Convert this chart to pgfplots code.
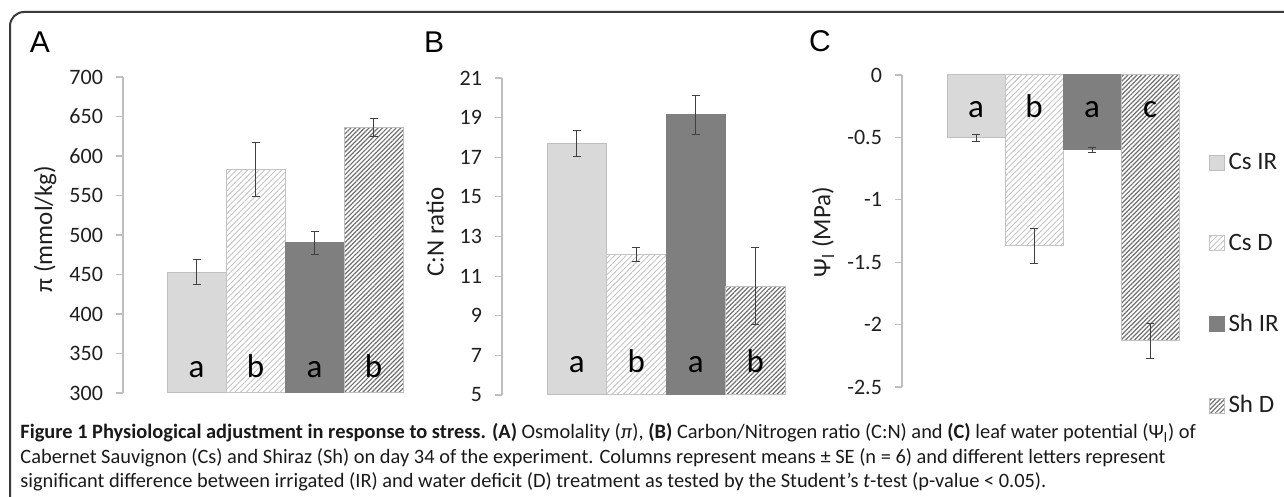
\documentclass[border=0pt]{standalone}
\usepackage{fontspec}
\setmainfont{Carlito}
\newfontfamily\arialf{Liberation Sans}
\usepackage{pgfplots}
\pgfplotsset{compat=1.18}
\usetikzlibrary{patterns.meta}

\definecolor{csir}{HTML}{D9D9D9}
\definecolor{shir}{HTML}{7F7F7F}
\definecolor{axisg}{HTML}{BFBFBF}
\definecolor{hatchl}{HTML}{C4C4C4}
\definecolor{hatchd}{HTML}{707070}
\definecolor{txt}{HTML}{1F1F1F}
\definecolor{errc}{HTML}{404040}
\definecolor{framec}{HTML}{3A3A3A}

\tikzset{letter/.style={font=\fontsize{16.5}{18}\selectfont, text=black, anchor=base}}
\pgfplotsset{
  panel/.style={
    scale only axis, ybar,
    axis x line=none, axis y line*=left,
    y axis line style={axisg, line width=0.6pt},
    ytick style={axisg, line width=0.6pt},
    tick align=outside, major tick length=3.5pt,
    tick label style={font=\fontsize{11}{13}\selectfont, text=txt},
    yticklabel style={xshift=-3pt},
    /pgf/number format/assume math mode=true,
    ylabel style={font=\fontsize{12.5}{14}\selectfont, text=txt, anchor=center},
    error bars/y dir=both, error bars/y explicit,
    error bars/error bar style={errc, line width=0.5pt},
    error bars/error mark options={errc, rotate=90, mark size=2pt, line width=0.5pt},
  },
  csir/.style={fill=csir, draw=axisg, line width=0.5pt, bar shift=0pt},
  csd/.style={pattern={Lines[angle=45,distance=2pt,line width=0.45pt]},
              pattern color=hatchl, draw=hatchl, line width=0.5pt, bar shift=0pt},
  shir/.style={fill=shir, draw=shir, line width=0.5pt, bar shift=0pt},
  shd/.style={pattern={Lines[angle=45,distance=1.6pt,line width=0.6pt]},
              pattern color=hatchd, draw=axisg, line width=0.5pt, bar shift=0pt},
}

\begin{document}
\begin{tikzpicture}
\useasboundingbox (0,0) rectangle (642pt,248.5pt);
\draw[framec, line width=1pt, rounded corners=7pt] (5pt,-20pt) -- (5pt,242.5pt) -- (700pt,242.5pt);

\node[font=\arialf\fontsize{15}{17}\selectfont] at (20pt,227.5pt) {A};
\node[font=\arialf\fontsize{15}{17}\selectfont] at (217pt,227.5pt) {B};
\node[font=\arialf\fontsize{15}{17}\selectfont] at (410pt,228pt) {C};

% A: osmolality
\begin{axis}[panel, at={(61.5pt,52pt)}, anchor=south west,
  width=165pt, height=158pt, xmin=0, xmax=330, ymin=300, ymax=700,
  ytick={300,350,...,700}, bar width=59,
  ylabel={π (mmol/kg)}, ylabel style={at={(axis description cs:-0.236,0.519)}}]
\addplot[csir] coordinates {(73.5,453) +- (0,16)};
\addplot[csd]  coordinates {(132.5,583) +- (0,34)};
\addplot[shir] coordinates {(191.5,490) +- (0,15)};
\addplot[shd]  coordinates {(250.5,636) +- (0,11)};
\node[letter] at (axis cs:73.5,320) {a};
\node[letter] at (axis cs:132.5,320) {b};
\node[letter] at (axis cs:191.5,320) {a};
\node[letter] at (axis cs:250.5,320) {b};
\end{axis}

% B: C:N ratio
\begin{axis}[panel, at={(251pt,51pt)}, anchor=south west,
  width=150pt, height=158.5pt, xmin=0, xmax=300, ymin=5, ymax=21,
  ytick={5,7,...,21}, bar width=59.5,
  ylabel={C:N ratio}, ylabel style={at={(axis description cs:-0.223,0.514)}}]
\addplot[csir] coordinates {(74.75,17.7) +- (0,0.65)};
\addplot[csd]  coordinates {(134.25,12.1) +- (0,0.34)};
\addplot[shir] coordinates {(193.75,19.15) +- (0,0.98)};
\addplot[shd]  coordinates {(253.25,10.5) +- (0,1.96)};
\node[letter] at (axis cs:74.75,6.15) {a};
\node[letter] at (axis cs:134.25,6.15) {b};
\node[letter] at (axis cs:193.75,6.15) {a};
\node[letter] at (axis cs:253.25,6.15) {b};
\end{axis}

% C: leaf water potential
\begin{axis}[panel, at={(451pt,55pt)}, anchor=south west,
  width=144pt, height=156pt, xmin=0, xmax=288, ymin=-2.5, ymax=0,
  ytick={-2.5,-2,...,0}, bar width=58,
  ylabel={Ψ\textsubscript{l} (MPa)}, ylabel style={at={(axis description cs:-0.274,0.497)}},
  legend image code/.code={\draw[#1] (0pt,-3.75pt) rectangle (7.5pt,3.75pt);},
  legend style={draw=none, fill=none, at={(axis description cs:1.042,0.775)}, anchor=north west,
    font=\fontsize{12.5}{14}\selectfont, text=txt, row sep=26.5pt},
  legend cell align=left]
\addplot[csir] coordinates {(74,-0.504) +- (0,0.03)};
\addplot[csd]  coordinates {(132,-1.37) +- (0,0.14)};
\addplot[shir] coordinates {(190,-0.60) +- (0,0.02)};
\addplot[shd]  coordinates {(248,-2.13) +- (0,0.14)};
\legend{Cs IR, Cs D, Sh IR, Sh D}
\node[letter] at (axis cs:74,-0.344) {a};
\node[letter] at (axis cs:132,-0.344) {b};
\node[letter] at (axis cs:190,-0.344) {a};
\node[letter] at (axis cs:248,-0.344) {c};
\end{axis}

% caption
\begin{scope}[every node/.style={anchor=base west, inner sep=0pt, font=\fontsize{10.2}{11}\selectfont, text=black!90}]
\node at (10pt,29pt) {\textbf{Figure 1 Physiological adjustment in response to stress. (A)} Osmolality (\textit{π}), \textbf{(B)} Carbon/Nitrogen ratio (C:N) and \textbf{(C)} leaf water potential (Ψ\textsubscript{l}) of};
\node at (10pt,16.75pt) {Cabernet Sauvignon (Cs) and Shiraz (Sh) on day 34 of the experiment. Columns represent means ± SE (n = 6) and different letters represent};
\node at (10pt,4.5pt) {significant difference between irrigated (IR) and water deficit (D) treatment as tested by the Student’s \textit{t}-test (p-value < 0.05).};
\end{scope}
\end{tikzpicture}
\end{document}
